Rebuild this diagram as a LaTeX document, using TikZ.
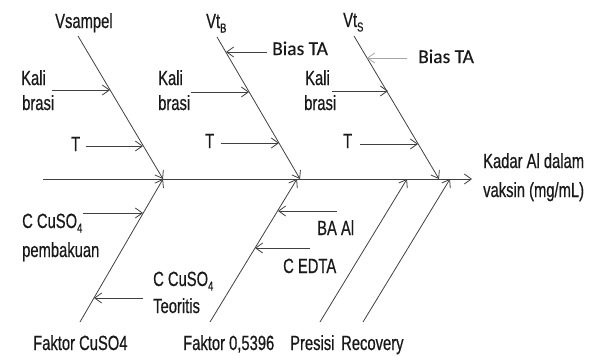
\documentclass[tikz,border=0pt]{standalone}
\usepackage{fontspec}
\usetikzlibrary{arrows.meta}
\newfontfamily\narfont[FakeStretch=0.72,FakeBold=0.6]{Liberation Sans}
\newfontfamily\calfont[FakeBold=0.4]{Carlito}
\newcommand\lsub[1]{\raisebox{-4.5pt}{\fontsize{13}{13}\selectfont #1}}
\definecolor{ln}{HTML}{404040}
\tikzset{
  txt/.style={font=\narfont\fontsize{20.5}{20.5}\selectfont, inner sep=0pt, anchor=base west, text=black!90},
  ctxt/.style={font=\calfont\fontsize{19.5}{19.5}\selectfont, inner sep=0pt, anchor=base west, text=black!90},
  bone/.style={draw=ln, line width=0.8pt, -{Straight Barb[length=7pt,width=10pt,line width=0.8pt]}},
  sub/.style={draw=ln, line width=0.8pt, -{Straight Barb[length=7pt,width=10pt,line width=0.8pt]}},
  lsub/.style={sub, draw=black!35}
}
\begin{document}
\begin{tikzpicture}[x=1pt,y=-1pt]
\useasboundingbox (0,0) rectangle (592,356);
% spine
\coordinate (sps) at (43,179);
\coordinate (spe) at (472,179);
\draw[bone] (sps) -- (spe);
% bones
\coordinate (b1s) at (78,36);  \coordinate (b1e) at (163,179);
\coordinate (b2s) at (217,37); \coordinate (b2e) at (300,179);
\coordinate (b3s) at (354,36); \coordinate (b3e) at (439,179);
\coordinate (b4s) at (80,322); \coordinate (b4e) at (163,179);
\coordinate (b5s) at (210,322);\coordinate (b5e) at (297,179);
\coordinate (b6s) at (320,322);\coordinate (b6e) at (407,179);
\coordinate (b7s) at (363,322);\coordinate (b7e) at (450,179);
\foreach \i in {1,...,7} {\draw[bone] (b\i s) -- (b\i e);}
% sub arrows
\coordinate (k1s) at (52,90);   \coordinate (k1e) at (110,90);
\coordinate (t1s) at (86,146);  \coordinate (t1e) at (143,146);
\coordinate (a1s) at (267,52);  \coordinate (a1e) at (226,52);
\coordinate (k2s) at (191,92);  \coordinate (k2e) at (249,92);
\coordinate (t2s) at (221,143); \coordinate (t2e) at (279,143);
\coordinate (a2s) at (407,58);  \coordinate (a2e) at (367,58);
\coordinate (k3s) at (332,91);  \coordinate (k3e) at (388,91);
\coordinate (t3s) at (360,144); \coordinate (t3e) at (418,144);
\coordinate (cps) at (83,213);  \coordinate (cpe) at (143,213);
\coordinate (cts) at (143,298); \coordinate (cte) at (94,298);
\coordinate (bas) at (337,211); \coordinate (bae) at (278,211);
\coordinate (ces) at (310,248); \coordinate (cee) at (255,248);
\foreach \n in {k1,t1,a1,k2,t2,k3,t3,cp,ct,ba,ce} {\draw[sub] (\n s) -- (\n e);}
\draw[lsub] (a2s) -- (a2e);
% labels
\node[txt] (lvs) at (55,28) {Vsampel};
\node[txt] (lvb) at (206,28) {Vt\lsub{B}};
\node[txt] (lvt) at (343,27) {Vt\lsub{S}};
\node[ctxt] (lba1) at (272,55) {Bias TA};
\node[ctxt] (lba2) at (418,63) {Bias TA};
\node[txt] (lk1a) at (21,85) {Kali};
\node[txt] (lk1b) at (22,110) {brasi};
\node[txt] (lk2a) at (158,85) {Kali};
\node[txt] (lk2b) at (158,110) {brasi};
\node[txt] (lk3a) at (305,85) {Kali};
\node[txt] (lk3b) at (304,110) {brasi};
\node[txt] (lt1) at (71,151) {T};
\node[txt] (lt2) at (205,148) {T};
\node[txt] (lt3) at (343,148) {T};
\node[txt] (lka) at (483,168) {Kadar Al dalam};
\node[txt] (lkb) at (483,197) {vaksin (mg/mL)};
\node[txt] (lcpa) at (22,228) {C CuSO\lsub{4}};
\node[txt] (lcpb) at (22,257) {pembakuan};
\node[txt] (lcta) at (153,286) {C CuSO\lsub{4}};
\node[txt] (lctb) at (153,313) {Teoritis};
\node[txt] (lbaal) at (317,235) {BA Al};
\node[txt] (lce) at (283,273) {C EDTA};
\node[txt] (lf1) at (33,350) {Faktor CuSO4};
\node[txt] (lf2) at (183,350) {Faktor 0,5396};
\node[txt] (lpr) at (290,350) {Presisi};
\node[txt] (lrc) at (341,350) {Recovery};
\end{tikzpicture}
\end{document}
